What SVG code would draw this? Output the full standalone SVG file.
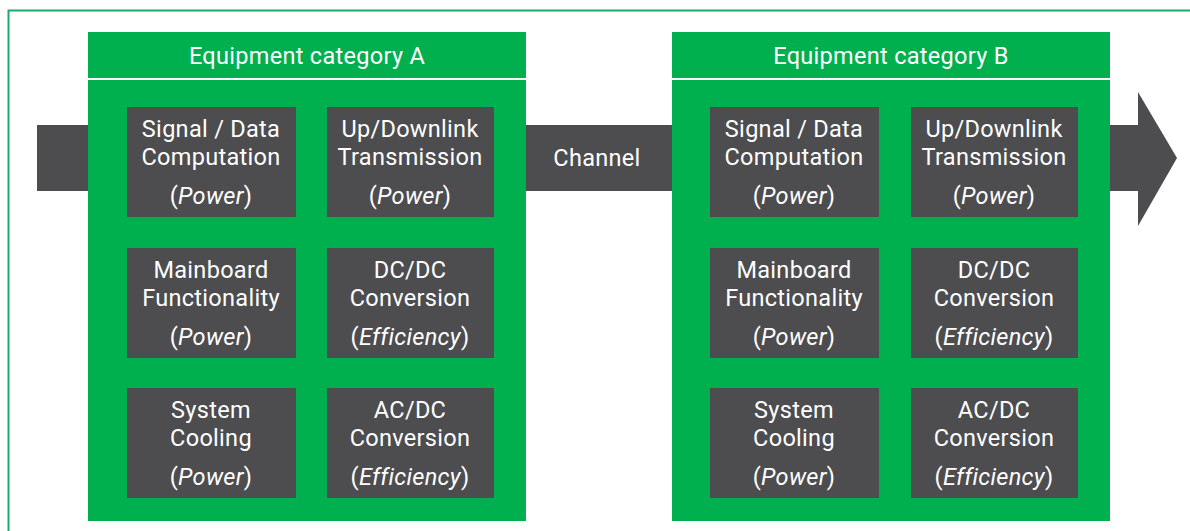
<svg xmlns="http://www.w3.org/2000/svg" width="1190" height="531" viewBox="0 0 1190 531">
<style>
.panel{fill:#00b04f}
.box{fill:#4d4d4f}
.arrow{fill:#4d4d4f}
.t{font-family:Roboto,"Open Sans",sans-serif;font-size:23.5px;letter-spacing:0.3px;fill:#ffffff;text-anchor:middle}
.i{font-style:italic}
.hdr{stroke:#ffffff;stroke-width:2}
</style>
<rect x="0" y="0" width="1190" height="531" fill="#ffffff"/>
<path d="M8.5 531 V10.5 H1190" fill="none" stroke="#1aab68" stroke-width="2"/>
<g id="connectors">
<rect class="arrow" x="37" y="125" width="52" height="66"/>
<rect class="arrow" x="525" y="125" width="148" height="66"/>
<path class="arrow" d="M1109 125 H1138 V92 L1177 158 L1138 226 V191 H1109 Z"/>
<text class="t" x="597" y="166">Channel</text>
</g>
<g id="panelA">
<rect class="panel" x="88" y="32" width="438" height="489"/>
<line class="hdr" x1="88" y1="79" x2="526" y2="79"/>
<text class="t" x="307" y="64">Equipment category A</text>
</g>
<g id="panelB">
<rect class="panel" x="672" y="32" width="438" height="489"/>
<line class="hdr" x1="672" y1="79" x2="1110" y2="79"/>
<text class="t" x="891" y="64">Equipment category B</text>
</g>
<g id="A1"><rect class="box" x="127" y="107" width="169" height="110"/><text class="t" x="211" y="137">Signal / Data</text><text class="t" x="211" y="165">Computation</text><text class="t" x="211" y="204">(<tspan class="i">Power</tspan>)</text></g>
<g id="A2"><rect class="box" x="327" y="107" width="167" height="110"/><text class="t" x="410" y="137">Up/Downlink</text><text class="t" x="410" y="165">Transmission</text><text class="t" x="410" y="204">(<tspan class="i">Power</tspan>)</text></g>
<g id="A3"><rect class="box" x="127" y="248" width="169" height="110"/><text class="t" x="211" y="278">Mainboard</text><text class="t" x="211" y="306">Functionality</text><text class="t" x="211" y="345">(<tspan class="i">Power</tspan>)</text></g>
<g id="A4"><rect class="box" x="327" y="248" width="167" height="110"/><text class="t" x="410" y="278">DC/DC</text><text class="t" x="410" y="306">Conversion</text><text class="t" x="410" y="345">(<tspan class="i">Efficiency</tspan>)</text></g>
<g id="A5"><rect class="box" x="127" y="388" width="169" height="110"/><text class="t" x="211" y="418">System</text><text class="t" x="211" y="446">Cooling</text><text class="t" x="211" y="485">(<tspan class="i">Power</tspan>)</text></g>
<g id="A6"><rect class="box" x="327" y="388" width="167" height="110"/><text class="t" x="410" y="418">AC/DC</text><text class="t" x="410" y="446">Conversion</text><text class="t" x="410" y="485">(<tspan class="i">Efficiency</tspan>)</text></g>
<g id="B1"><rect class="box" x="710" y="107" width="169" height="110"/><text class="t" x="794" y="137">Signal / Data</text><text class="t" x="794" y="165">Computation</text><text class="t" x="794" y="204">(<tspan class="i">Power</tspan>)</text></g>
<g id="B2"><rect class="box" x="911" y="107" width="167" height="110"/><text class="t" x="994" y="137">Up/Downlink</text><text class="t" x="994" y="165">Transmission</text><text class="t" x="994" y="204">(<tspan class="i">Power</tspan>)</text></g>
<g id="B3"><rect class="box" x="710" y="248" width="169" height="110"/><text class="t" x="794" y="278">Mainboard</text><text class="t" x="794" y="306">Functionality</text><text class="t" x="794" y="345">(<tspan class="i">Power</tspan>)</text></g>
<g id="B4"><rect class="box" x="911" y="248" width="167" height="110"/><text class="t" x="994" y="278">DC/DC</text><text class="t" x="994" y="306">Conversion</text><text class="t" x="994" y="345">(<tspan class="i">Efficiency</tspan>)</text></g>
<g id="B5"><rect class="box" x="710" y="388" width="169" height="110"/><text class="t" x="794" y="418">System</text><text class="t" x="794" y="446">Cooling</text><text class="t" x="794" y="485">(<tspan class="i">Power</tspan>)</text></g>
<g id="B6"><rect class="box" x="911" y="388" width="167" height="110"/><text class="t" x="994" y="418">AC/DC</text><text class="t" x="994" y="446">Conversion</text><text class="t" x="994" y="485">(<tspan class="i">Efficiency</tspan>)</text></g>
</svg>
